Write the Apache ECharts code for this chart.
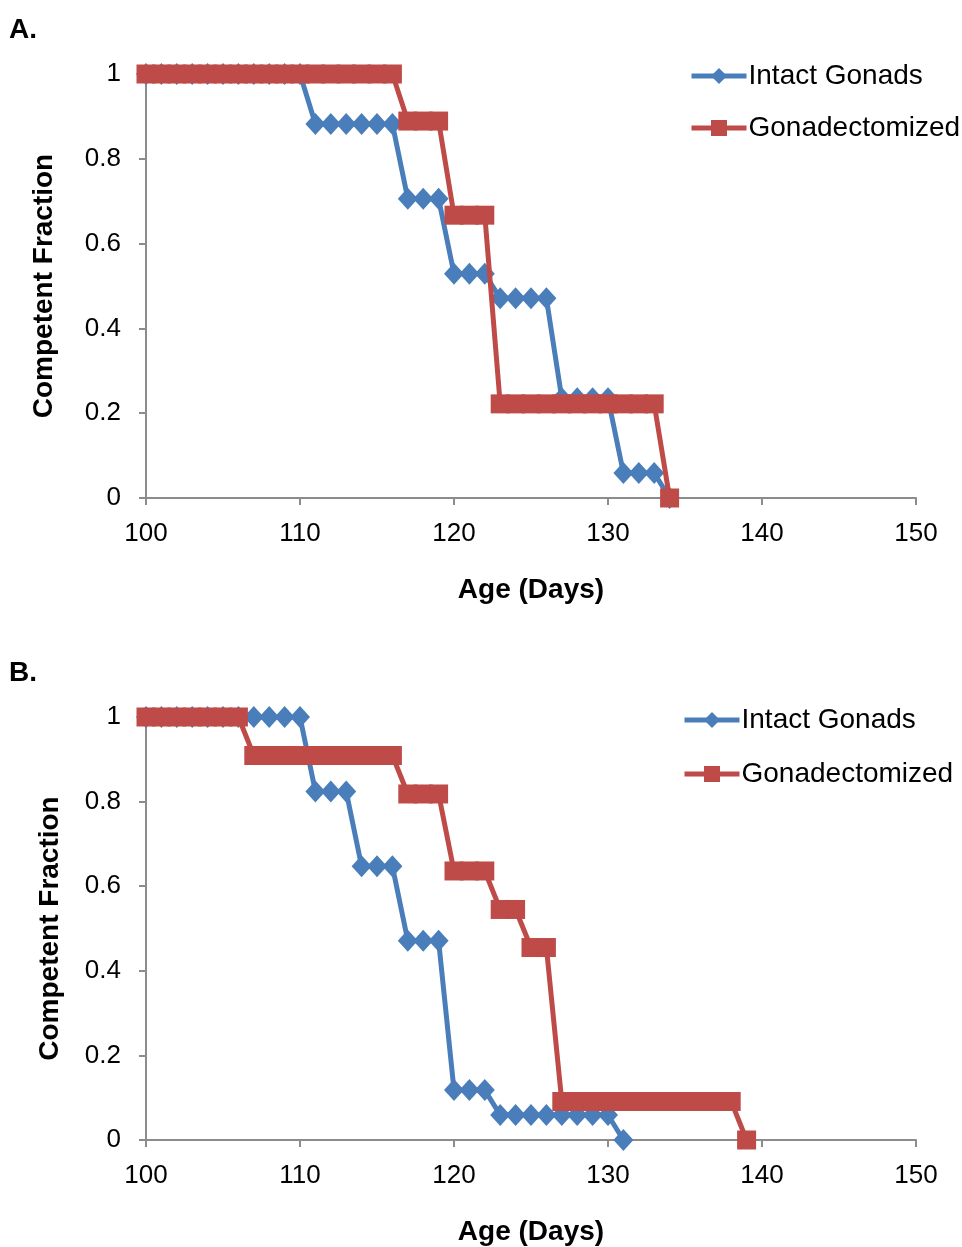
<!DOCTYPE html>
<html>
<head>
<meta charset="utf-8">
<script src="https://cdn.jsdelivr.net/npm/echarts@6/dist/echarts.min.js"></script>
<style>
  html, body { margin: 0; padding: 0; background: #fff; }
  #chart { width: 962px; height: 1247px; }
</style>
</head>
<body>
<div id="chart"></div>
<script>
// Panel A: age in days and competent fraction for each group
const daysA_intact = [100,101,102,103,104,105,106,107,108,109,110,111,112,113,114,115,116,117,118,119,120,121,122,123,124,125,126,127,128,129,130,131,132,133,134];
const fracA_intact = [1,1,1,1,1,1,1,1,1,1,1,0.882,0.882,0.882,0.882,0.882,0.882,0.706,0.706,0.706,0.529,0.529,0.529,0.471,0.471,0.471,0.471,0.235,0.235,0.235,0.235,0.059,0.059,0.059,0];
const daysA_gdx = [100,101,102,103,104,105,106,107,108,109,110,111,112,113,114,115,116,117,118,119,120,121,122,123,124,125,126,127,128,129,130,131,132,133,134];
const fracA_gdx = [1,1,1,1,1,1,1,1,1,1,1,1,1,1,1,1,1,0.889,0.889,0.889,0.667,0.667,0.667,0.222,0.222,0.222,0.222,0.222,0.222,0.222,0.222,0.222,0.222,0.222,0];

// Panel B
const daysB_intact = [100,101,102,103,104,105,106,107,108,109,110,111,112,113,114,115,116,117,118,119,120,121,122,123,124,125,126,127,128,129,130,131];
const fracB_intact = [1,1,1,1,1,1,1,1,1,1,1,0.824,0.824,0.824,0.647,0.647,0.647,0.471,0.471,0.471,0.118,0.118,0.118,0.059,0.059,0.059,0.059,0.059,0.059,0.059,0.059,0];
const daysB_gdx = [100,101,102,103,104,105,106,107,108,109,110,111,112,113,114,115,116,117,118,119,120,121,122,123,124,125,126,127,128,129,130,131,132,133,134,135,136,137,138,139];
const fracB_gdx = [1,1,1,1,1,1,1,0.909,0.909,0.909,0.909,0.909,0.909,0.909,0.909,0.909,0.909,0.818,0.818,0.818,0.636,0.636,0.636,0.545,0.545,0.455,0.455,0.091,0.091,0.091,0.091,0.091,0.091,0.091,0.091,0.091,0.091,0.091,0.091,0];

const seriesNames = ['Intact Gonads', 'Gonadectomized'];
const panelLabels = ['A.', 'B.'];
const xTitle = 'Age (Days)';
const yTitle = 'Competent Fraction';

const BLUE = '#4A7EBB';
const RED = '#BE4B48';
const FONT = '"Liberation Sans", Arial, Helvetica, sans-serif';
const AXIS_GRAY = '#8c8c8c';

function zip(xs, ys) { return xs.map((x, i) => [x, ys[i]]); }

function xAxisFor(gridIndex) {
  return {
    gridIndex, type: 'value', min: 100, max: 150, interval: 10,
    name: xTitle, nameLocation: 'middle', nameGap: 78,
    nameTextStyle: { fontFamily: FONT, fontSize: 28, fontWeight: 'bold', color: '#000' },
    axisLine: { show: true, onZero: false, lineStyle: { color: AXIS_GRAY, width: 2 } },
    axisTick: { show: true, inside: false, length: 7, lineStyle: { color: AXIS_GRAY, width: 2 } },
    axisLabel: { fontFamily: FONT, fontSize: 26, color: '#000', margin: 23 },
    splitLine: { show: false }
  };
}
function yAxisFor(gridIndex, gap) {
  return {
    gridIndex, type: 'value', min: 0, max: 1, interval: 0.2,
    name: yTitle, nameLocation: 'middle', nameGap: gap,
    nameTextStyle: { fontFamily: FONT, fontSize: 28, fontWeight: 'bold', color: '#000' },
    axisLine: { show: true, lineStyle: { color: AXIS_GRAY, width: 2 } },
    axisTick: { show: true, inside: false, length: 7, lineStyle: { color: AXIS_GRAY, width: 2 } },
    axisLabel: { fontFamily: FONT, fontSize: 26, color: '#000', margin: 25 },
    splitLine: { show: false }
  };
}
function intactSeries(idx, data) {
  return {
    name: seriesNames[0], type: 'line', xAxisIndex: idx, yAxisIndex: idx,
    data, symbol: 'diamond', symbolSize: [20, 22],
    lineStyle: { color: BLUE, width: 5 }, itemStyle: { color: BLUE },
    emphasis: { disabled: true }, animation: false, z: 2
  };
}
function gdxSeries(idx, data) {
  return {
    name: seriesNames[1], type: 'line', xAxisIndex: idx, yAxisIndex: idx,
    data, symbol: 'rect', symbolSize: 19,
    lineStyle: { color: RED, width: 5 }, itemStyle: { color: RED },
    emphasis: { disabled: true }, animation: false, z: 3
  };
}
function legendFor(left, top, gap) {
  return {
    orient: 'vertical', left, top, itemWidth: 55, itemHeight: 20, itemGap: gap,
    data: seriesNames, selectedMode: false,
    lineStyle: { width: 5 },
    textStyle: { fontFamily: FONT, fontSize: 28, color: '#000', padding: [0, 0, 0, -3] }
  };
}

const chart = echarts.init(document.getElementById('chart'), null, { renderer: 'canvas' });
chart.setOption({
  backgroundColor: '#fff',
  animation: false,
  title: [
    { text: panelLabels[0], left: 4, top: 11, textStyle: { fontFamily: FONT, fontSize: 28, fontWeight: 'bold', color: '#000' } },
    { text: panelLabels[1], left: 4, top: 654, textStyle: { fontFamily: FONT, fontSize: 28, fontWeight: 'bold', color: '#000' } }
  ],
  legend: [legendFor(684, 57, 24), legendFor(677, 701, 26)],
  grid: [
    { left: 146, top: 74, width: 770, height: 424 },
    { left: 146, top: 717, width: 770, height: 424 }
  ],
  xAxis: [xAxisFor(0), xAxisFor(1)],
  yAxis: [yAxisFor(0, 88), yAxisFor(1, 82)],
  series: [
    intactSeries(0, zip(daysA_intact, fracA_intact)),
    gdxSeries(0, zip(daysA_gdx, fracA_gdx)),
    intactSeries(1, zip(daysB_intact, fracB_intact)),
    gdxSeries(1, zip(daysB_gdx, fracB_gdx))
  ]
});
</script>
</body>
</html>
